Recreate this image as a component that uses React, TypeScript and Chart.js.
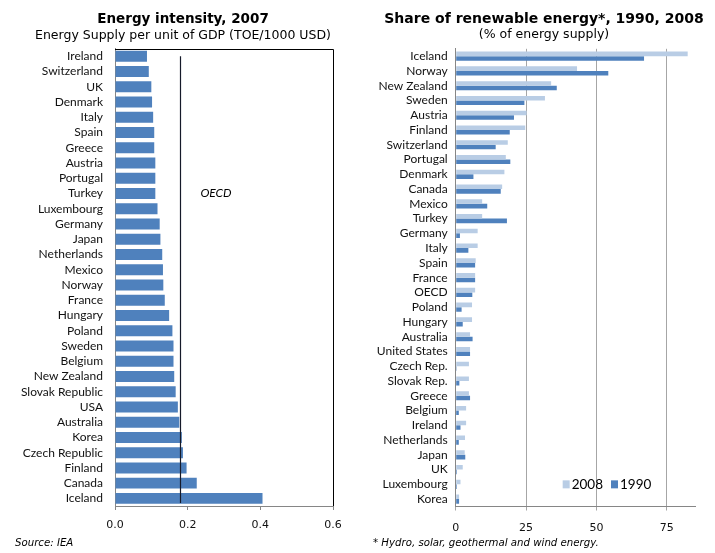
import React, { useEffect, useRef } from "react";
import { Chart, registerables } from "chart.js";

Chart.register(...registerables);

// ---- Left chart data: Energy intensity, 2007 ----
const intensityCountries = [
  "Ireland", "Switzerland", "UK", "Denmark", "Italy", "Spain", "Greece", "Austria",
  "Portugal", "Turkey", "Luxembourg", "Germany", "Japan", "Netherlands", "Mexico",
  "Norway", "France", "Hungary", "Poland", "Sweden", "Belgium", "New Zealand",
  "Slovak Republic", "USA", "Australia", "Korea", "Czech Republic", "Finland",
  "Canada", "Iceland",
];
const intensityValues = [
  0.088, 0.093, 0.1, 0.102, 0.105, 0.108, 0.108, 0.111,
  0.111, 0.111, 0.117, 0.123, 0.125, 0.13, 0.132,
  0.133, 0.137, 0.149, 0.158, 0.161, 0.161, 0.163,
  0.167, 0.173, 0.177, 0.184, 0.187, 0.197,
  0.225, 0.406,
];
const oecdIntensity = 0.18;
const oecdLabel = "OECD";
const intensityTicks = [0, 0.2, 0.4, 0.6];

// ---- Right chart data: Share of renewable energy ----
const renewCountries = [
  "Iceland", "Norway", "New Zealand", "Sweden", "Austria", "Finland", "Switzerland",
  "Portugal", "Denmark", "Canada", "Mexico", "Turkey", "Germany", "Italy", "Spain",
  "France", "OECD", "Poland", "Hungary", "Australia", "United States", "Czech Rep.",
  "Slovak Rep.", "Greece", "Belgium", "Ireland", "Netherlands", "Japan", "UK",
  "Luxembourg", "Korea",
];
const renew2008 = [
  82.4, 43.1, 33.9, 31.7, 25.2, 24.7, 18.5,
  17.8, 17.3, 16.5, 9.4, 9.4, 7.8, 7.8, 7.1,
  6.9, 6.9, 5.8, 5.8, 5.1, 5.1, 4.7,
  4.7, 4.7, 3.7, 3.7, 3.3, 3.2, 2.5,
  1.7, 1.2,
];
const renew1990 = [
  66.9, 54.2, 35.9, 24.4, 20.7, 19.2, 14.2,
  19.4, 6.3, 16.0, 11.2, 18.2, 1.5, 4.5, 6.9,
  6.9, 5.9, 2.1, 2.5, 6.0, 5.1, 0.3,
  1.3, 5.1, 1.1, 1.7, 1.1, 3.4, 0.4,
  0.4, 1.2,
];
const renewTicks = [0, 25, 50, 75];

const DARK = "#4F81BD";
const LIGHT = "#B9CDE5";
const AXIS_GRAY = "#868686";
const CAT_FONT = { family: "Lato", size: 12 };
const TICK_FONT = { family: "DejaVu Sans", size: 11 };

const leftDecor = {
  id: "leftDecor",
  afterDatasetsDraw(chart: any) {
    const { ctx, chartArea: a, scales } = chart;
    ctx.save();
    ctx.strokeStyle = "#000";
    ctx.lineWidth = 1;
    ctx.beginPath();
    ctx.moveTo(a.left, Math.round(a.top) + 0.5);
    ctx.lineTo(Math.round(a.right) + 0.5, Math.round(a.top) + 0.5);
    ctx.lineTo(Math.round(a.right) + 0.5, a.bottom);
    ctx.stroke();
    const x = Math.round(scales.x.getPixelForValue(oecdIntensity)) + 0.5;
    ctx.strokeStyle = "#151a2a";
    ctx.lineWidth = 1.2;
    ctx.beginPath();
    ctx.moveTo(x, scales.y.getPixelForValue(0));
    ctx.lineTo(x, a.bottom - 3);
    ctx.stroke();
    ctx.fillStyle = "#000";
    ctx.font = "italic 12px Lato";
    ctx.textAlign = "left";
    ctx.textBaseline = "middle";
    ctx.fillText(
      oecdLabel,
      scales.x.getPixelForValue(0.235),
      scales.y.getPixelForValue(intensityCountries.indexOf("Turkey"))
    );
    ctx.restore();
  },
};

const insideLegend = {
  id: "insideLegend",
  afterDraw(chart: any) {
    const { ctx, scales } = chart;
    const y = scales.y.getPixelForValue(renewCountries.length - 2);
    let x = scales.x.getPixelForValue(38);
    ctx.save();
    ctx.font = "13.5px Lato";
    ctx.textAlign = "left";
    ctx.textBaseline = "middle";
    chart.data.datasets.forEach((ds: any) => {
      ctx.fillStyle = ds.backgroundColor;
      ctx.fillRect(x, y - 4, 7, 8);
      x += 9;
      ctx.fillStyle = "#000";
      ctx.fillText(ds.label, x, y);
      x += ctx.measureText(ds.label).width + 8;
    });
    ctx.restore();
  },
};

// an empty right-hand axis that only reserves room so the title centres like the reference
const spacerAxis = (w: number) => ({
  type: "linear",
  position: "right",
  display: true,
  grid: { display: false, drawTicks: false },
  border: { display: false },
  ticks: { display: false },
  afterFit: (s: any) => {
    s.width = w;
  },
});

function useChart(ref: any, makeConfig: () => any) {
  useEffect(() => {
    const chart = new Chart(ref.current, makeConfig());
    return () => chart.destroy();
  }, []);
}

function LeftChart() {
  const ref = useRef<HTMLCanvasElement>(null);
  useChart(ref, () => ({
    type: "bar",
    data: {
      labels: intensityCountries,
      datasets: [
        {
          label: "Energy intensity",
          data: intensityValues,
          backgroundColor: DARK,
          barPercentage: 0.72,
          categoryPercentage: 1,
        },
      ],
    },
    options: {
      indexAxis: "y",
      responsive: false,
      animation: false,
      devicePixelRatio: 1,
      layout: { padding: { left: 0, right: 0, top: 0, bottom: 17 } },
      plugins: {
        legend: { display: false },
        tooltip: { enabled: false },
        title: {
          display: true,
          text: "Energy intensity, 2007",
          color: "#000",
          font: { family: "DejaVu Sans", size: 13.5, weight: "bold" },
          padding: { top: 11, bottom: 0 },
        },
        subtitle: {
          display: true,
          text: "Energy Supply per unit of GDP (TOE/1000 USD)",
          color: "#000",
          font: { family: "DejaVu Sans", size: 12.5 },
          padding: { top: 1, bottom: 5.5 },
        },
      },
      scales: {
        x: {
          min: 0,
          max: 0.6,
          afterBuildTicks: (s: any) => {
            s.ticks = intensityTicks.map((v) => ({ value: v }));
          },
          afterFit: (s: any) => {
            s.height = 30;
          },
          grid: { drawOnChartArea: false, drawTicks: true, tickLength: 4, color: AXIS_GRAY },
          border: { color: AXIS_GRAY },
          ticks: {
            color: "#111",
            font: TICK_FONT,
            padding: 9,
            maxRotation: 0,
            callback: (v: any) => Number(v).toFixed(1),
          },
        },
        y: {
          afterFit: (s: any) => {
            s.width = 115;
          },
          grid: { display: false, drawTicks: false },
          border: { color: AXIS_GRAY },
          ticks: { color: "#111", font: CAT_FONT, padding: 12, autoSkip: false },
        },
        spacer: spacerAxis(33),
      },
    },
    plugins: [leftDecor],
  }));
  return <canvas ref={ref} width={366} height={553} />;
}

function RightChart() {
  const ref = useRef<HTMLCanvasElement>(null);
  useChart(ref, () => ({
    type: "bar",
    data: {
      labels: renewCountries,
      datasets: [
        {
          label: "2008",
          data: renew2008,
          backgroundColor: LIGHT,
          barPercentage: 1,
          categoryPercentage: 0.62,
        },
        {
          label: "1990",
          data: renew1990,
          backgroundColor: DARK,
          barPercentage: 1,
          categoryPercentage: 0.62,
        },
      ],
    },
    options: {
      indexAxis: "y",
      responsive: false,
      animation: false,
      devicePixelRatio: 1,
      layout: { padding: { left: 0, right: 0, top: 0, bottom: 16.5 } },
      plugins: {
        legend: { display: false },
        tooltip: { enabled: false },
        title: {
          display: true,
          text: "Share of renewable energy*, 1990, 2008",
          color: "#000",
          font: { family: "DejaVu Sans", size: 14, weight: "bold" },
          padding: { top: 10.5, bottom: 0 },
        },
        subtitle: {
          display: true,
          text: "(% of energy supply)",
          color: "#000",
          font: { family: "DejaVu Sans", size: 12.5 },
          padding: { top: 0, bottom: 6.5 },
        },
      },
      scales: {
        x: {
          min: 0,
          max: 85,
          afterBuildTicks: (s: any) => {
            s.ticks = renewTicks.map((v) => ({ value: v }));
          },
          afterFit: (s: any) => {
            s.height = 30;
          },
          grid: { drawOnChartArea: true, drawTicks: true, tickLength: 4, color: "#a6a6a6" },
          border: { color: AXIS_GRAY },
          ticks: { color: "#111", font: TICK_FONT, padding: 11, maxRotation: 0 },
        },
        y: {
          afterFit: (s: any) => {
            s.width = 98.7;
          },
          grid: { display: false, drawTicks: false },
          border: { color: AXIS_GRAY },
          ticks: { color: "#111", font: CAT_FONT, padding: 8, autoSkip: false },
        },
        spacer: spacerAxis(36),
      },
    },
    plugins: [insideLegend],
  }));
  return <canvas ref={ref} width={374} height={553} />;
}

export default function App() {
  const note: React.CSSProperties = {
    position: "absolute",
    top: 537,
    fontFamily: "DejaVu Sans",
    fontStyle: "italic",
    fontSize: 10.2,
    lineHeight: "12px",
    color: "#000",
    whiteSpace: "nowrap",
  };
  return (
    <div style={{ position: "absolute", left: 0, top: 0, width: 715, height: 553, background: "#fff", overflow: "hidden" }}>
      <div style={{ position: "absolute", left: 0, top: 0, width: 366, height: 553 }}>
        <LeftChart />
      </div>
      <div style={{ position: "absolute", left: 357, top: 0, width: 374, height: 553 }}>
        <RightChart />
      </div>
      <div style={{ ...note, left: 15 }}>Source: IEA</div>
      <div style={{ ...note, left: 373 }}>* Hydro, solar, geothermal and wind energy.</div>
    </div>
  );
}
